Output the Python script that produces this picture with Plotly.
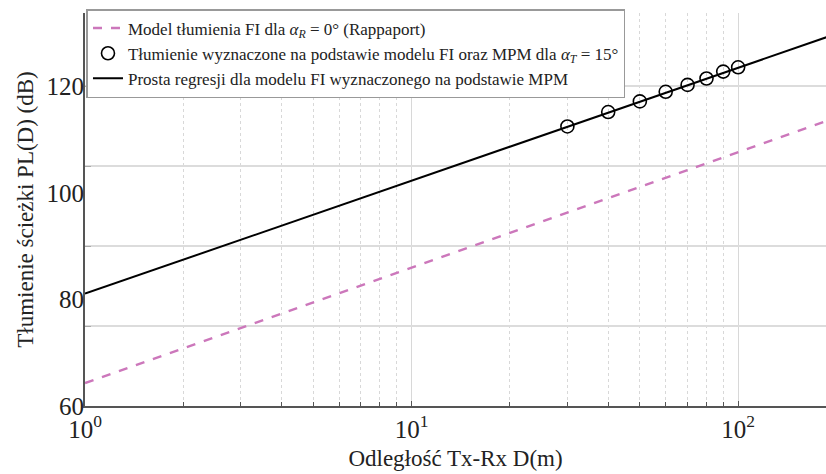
import plotly.graph_objects as go

# Data
line_D = [1, 10, 100, 200]
rappaport_PL = [64.3, 86.0, 107.7, 114.2]
regression_PL = [81.1, 102.3, 123.5, 129.9]
meas_D = [30, 40, 50, 60, 70, 80, 90, 100]
meas_PL = [112.5, 115.2, 117.2, 119.0, 120.3, 121.5, 122.8, 123.6]

y_label_vals = [60, 80, 100, 120]
y_grid_vals = [75, 90, 105, 120]
x_tick_vals = [1, 10, 100]
x_tick_text = ["10<sup>0</sup>", "10<sup>1</sup>", "10<sup>2</sup>"]

FONT = "Liberation Serif"
yr = [60, 133.8]
xr = [0, 2.269]

fig = go.Figure()
fig.add_trace(go.Scatter(
    x=line_D, y=rappaport_PL, mode="lines",
    line=dict(color="#cc77bb", width=2.5, dash="dash"),
    name="Model tłumienia FI dla <i>α</i><sub><i>R</i></sub> = 0° (Rappaport)"))
fig.add_trace(go.Scatter(
    x=meas_D, y=meas_PL, mode="markers",
    marker=dict(symbol="circle-open", size=13, color="black", line=dict(width=1.6)),
    name="Tłumienie wyznaczone na podstawie modelu FI oraz MPM dla <i>α</i><sub><i>T</i></sub> = 15°"))
fig.add_trace(go.Scatter(
    x=line_D, y=regression_PL, mode="lines",
    line=dict(color="black", width=2),
    name="Prosta regresji dla modelu FI wyznaczonego na podstawie MPM"))

fig.update_layout(
    width=826, height=474,
    margin=dict(l=85, r=0, t=13, b=68),
    plot_bgcolor="white", paper_bgcolor="white",
    font=dict(family=FONT, size=18, color="#222"),
    showlegend=True,
    legend=dict(x=0.002, y=1.01, xanchor="left", yanchor="top",
                bgcolor="white", bordercolor="#999", borderwidth=1.5,
                font=dict(family=FONT, size=17, color="#222"),
                tracegroupgap=0, itemwidth=30),
    xaxis=dict(type="log", range=xr,
               tickvals=x_tick_vals, ticktext=x_tick_text,
               showgrid=True, gridcolor="#d8d8d8", gridwidth=1,
               showline=True, linecolor="#555", linewidth=1.5,
               ticks="inside", ticklen=5, tickcolor="#555",
               tickfont=dict(family=FONT, size=25),
               minor=dict(dtick="D1", showgrid=True, gridcolor="#d8d8d8", griddash="dot",
                          ticks="inside", ticklen=4, tickcolor="#555"),
               title=dict(text="Odległość Tx-Rx D(m)", font=dict(family=FONT, size=23), standoff=8),
               zeroline=False),
    yaxis=dict(range=yr, tickmode="array", tickvals=y_grid_vals,
               ticktext=["" for _ in y_grid_vals],
               showgrid=True, gridcolor="#dcdcdc", gridwidth=1.5,
               showline=True, linecolor="#555", linewidth=1.5,
               ticks="inside", ticklen=6, tickcolor="#aaa",
               zeroline=False),
    yaxis2=dict(range=yr, overlaying="y", side="left", anchor="x",
                tickmode="array", tickvals=y_label_vals,
                ticktext=[str(v) for v in y_label_vals],
                showgrid=False, showline=False, ticks="", zeroline=False,
                tickfont=dict(family=FONT, size=25),
                title=dict(text="Tłumienie ścieżki PL(D) (dB)", font=dict(family=FONT, size=23), standoff=6)),
)
# invisible helper trace so the label axis is drawn
fig.add_trace(go.Scatter(x=[1], y=[60], yaxis="y2", mode="markers",
                         marker=dict(opacity=0), showlegend=False, hoverinfo="skip"))

fig.write_html("out.html")
